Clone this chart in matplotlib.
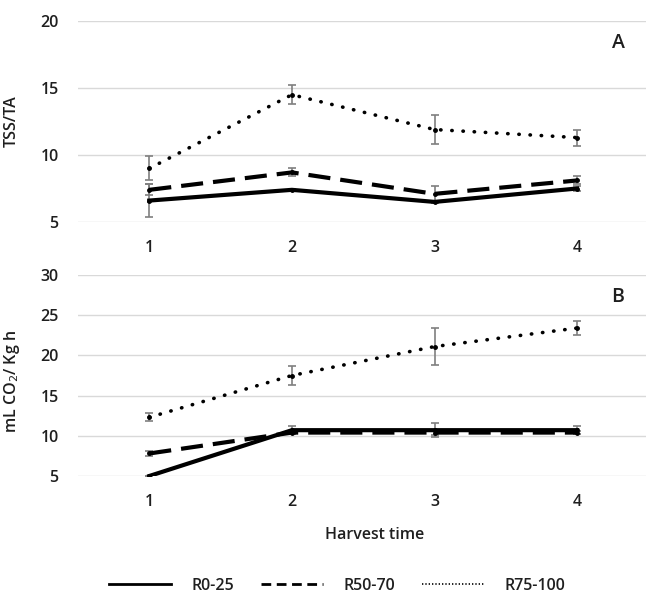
import numpy as np
import matplotlib
matplotlib.use('Agg')
import matplotlib.pyplot as plt
from matplotlib.lines import Line2D

plt.rcParams['font.family'] = ['Open Sans', 'DejaVu Sans']

# harvest times
harvest = [1, 2, 3, 4]
series = ['R0-25', 'R50-70', 'R75-100']

# panel A: TSS/TA
tss_r0 = [6.6, 7.4, 6.5, 7.5]
tss_r0_err = [1.2, 0.1, 0.1, 0.2]
tss_r50 = [7.4, 8.7, 7.1, 8.1]
tss_r50_err = [0.4, 0.3, 0.6, 0.3]
tss_r75 = [9.0, 14.5, 11.9, 11.3]
tss_r75_err = [0.9, 0.7, 1.05, 0.6]

# panel B: respiration rate
co2_r0 = [5.0, 10.7, 10.7, 10.7]
co2_r0_err = [0.0, 0.5, 0.9, 0.5]
co2_r50 = [7.8, 10.4, 10.4, 10.4]
co2_r50_err = [0.3, 0.2, 0.3, 0.2]
co2_r75 = [12.3, 17.5, 21.1, 23.4]
co2_r75_err = [0.5, 1.2, 2.35, 0.85]

styles = [
    dict(linestyle='-', linewidth=3.0, dash_capstyle='butt'),
    dict(linestyle=(0, (5.3, 2.4)), linewidth=3.0, dash_capstyle='butt'),
    dict(linestyle=(0, (0.1, 3.0)), linewidth=2.6, dash_capstyle='round'),
]
txt = '#1f1f1f'
fs = 11.5

fig = plt.figure(figsize=(6.46, 5.98), dpi=100)
axA = fig.add_axes([78 / 646, 1 - 222 / 598, 1 - 78 / 646, 201 / 598])
axB = fig.add_axes([78 / 646, 1 - 476 / 598, 1 - 78 / 646, 201 / 598])


def draw(ax, data, errs, ylim, yticks):
    for vals, err, st in zip(data, errs, styles):
        ax.errorbar(harvest, vals, yerr=err, fmt='none', ecolor='#7f7f7f',
                    elinewidth=1.2, capsize=3, capthick=1.2, zorder=2)
        ax.plot(harvest, vals, color='black', zorder=3, **st)
        ax.plot(harvest, vals, 'o', color='black', markersize=2.5, zorder=4)
    ax.set_ylim(*ylim)
    ax.set_yticks(yticks)
    ax.set_xlim(0.5, 4.483)
    ax.set_xticks(harvest)
    ax.grid(axis='y', color='#d9d9d9', linewidth=1)
    ax.set_axisbelow(True)
    for s in ax.spines.values():
        s.set_visible(False)
    ax.tick_params(length=0, labelsize=fs, colors=txt, pad=14)
    ax.tick_params(axis='x', pad=13)
    for lab in ax.get_xticklabels() + ax.get_yticklabels():
        lab.set_fontweight('semibold')


draw(axA, [tss_r0, tss_r50, tss_r75], [tss_r0_err, tss_r50_err, tss_r75_err],
     (5, 20), [5, 10, 15, 20])
draw(axB, [co2_r0, co2_r50, co2_r75], [co2_r0_err, co2_r50_err, co2_r75_err],
     (5, 30), [5, 10, 15, 20, 25, 30])

axA.set_ylabel('TSS/TA', fontsize=fs, color=txt, fontweight='semibold')
axA.yaxis.set_label_coords((20 - 78) / 568, 0.5)
axB.set_ylabel('mL CO$_2$/ Kg h', fontsize=fs, color=txt, fontweight='semibold')
axB.yaxis.set_label_coords((22 - 78) / 568, 0.47)
axB.set_xlabel('Harvest time', fontsize=fs, color=txt, fontweight='semibold')
axB.xaxis.set_label_coords((375 - 78) / 568, -(527 - 476) / 201)

fig.text(618 / 646, 1 - 43 / 598, 'A', fontsize=14, fontweight='semibold', color=txt,
         ha='center', va='center')
fig.text(618 / 646, 1 - 297 / 598, 'B', fontsize=14, fontweight='semibold', color=txt,
         ha='center', va='center')

handles = [Line2D([], [], color='black', linestyle='-', linewidth=2.0),
           Line2D([], [], color='black', linestyle=(0, (3.5, 2)), linewidth=2.0),
           Line2D([], [], color='black', linestyle=(0, (0.8, 1.2)), linewidth=1.2)]
leg = fig.legend(handles, series, loc='center', bbox_to_anchor=(337 / 646, 1 - 586 / 598),
                 ncol=3, frameon=False, handlelength=3.9, columnspacing=1.7,
                 handletextpad=1.25, fontsize=fs, borderpad=0.2)
for t in leg.get_texts():
    t.set_color(txt)
    t.set_fontweight('semibold')

fig.savefig('out.png', dpi=100)
